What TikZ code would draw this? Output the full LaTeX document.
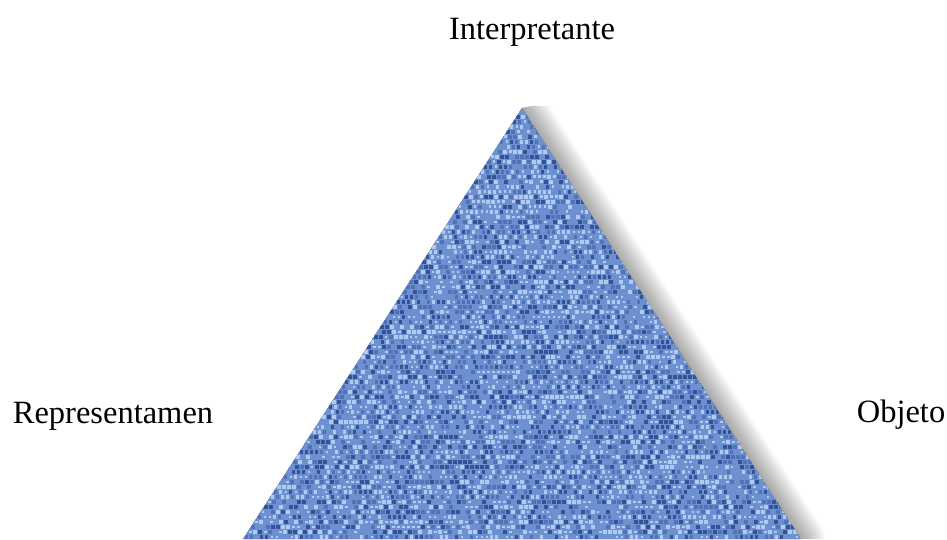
\documentclass[tikz,border=0pt]{standalone}
\usepackage{fontspec}
\setmainfont{Liberation Serif}
\definecolor{tribase}{RGB}{108,144,208}
\definecolor{tridark}{RGB}{52,82,152}
\definecolor{trilight}{RGB}{176,202,240}
\definecolor{trimid}{RGB}{82,114,184}
\tikzset{
  lbl/.style={font=\fontsize{32.5}{36}\selectfont, text=black, inner sep=0pt, anchor=base},
  shadowlayer/.style={draw=black, fill=black, opacity=0.03, line join=round},
}
\begin{document}
\begin{tikzpicture}[x=1pt,y=1pt]
\useasboundingbox (0,0) rectangle (947,539);
\fill[white] (0,0) rectangle (947,539);
\coordinate (A) at (522,431);
\coordinate (L) at (243,0);
\coordinate (R) at (801,0);
% soft shadow on the right side
\begin{scope}
\clip (243,0) -- (522,431) -- (532,433) -- (947,433) -- (947,0) -- cycle;
\foreach \w in {3,7,...,47} {
  \path[shadowlayer, line width=\w pt, shift={(6,-4)}] (L) -- (A) -- (R) -- cycle;
}
\end{scope}
\begin{scope}
\clip (L) -- (A) -- (R) -- cycle;
\fill[tribase] (L) -- (A) -- (R) -- cycle;
\pgfmathsetseed{7}
\foreach \j in {0,...,87} {
  \pgfmathsetmacro\yy{\j*5}
  \pgfmathsetmacro\half{(437-\yy)/432*279}
  \pgfmathtruncatemacro\nx{2*\half/5+1}
  \foreach \i in {0,...,\nx} {
    \pgfmathsetmacro\xx{522-\half+\i*5}
    \pgfmathrandominteger{\r}{0}{4}
    \ifcase\r
      \fill[tridark] (\xx,\yy) rectangle ++(3.6,3.6);
    \or
      \fill[trilight] (\xx,\yy) rectangle ++(3.6,3.6);
    \or
      \fill[trimid] (\xx,\yy) rectangle ++(3.6,3.6);
    \or
      \fill[trilight] (\xx+1,\yy+1) rectangle ++(2.5,2.5);
    \else
    \fi
  }
}
\end{scope}
\node[lbl] (interp) at (532,499) {Interpretante};
\node[lbl] (repr) at (113,116) {Representamen};
\node[lbl] (obj) at (901,117) {Objeto};
\end{tikzpicture}
\end{document}
